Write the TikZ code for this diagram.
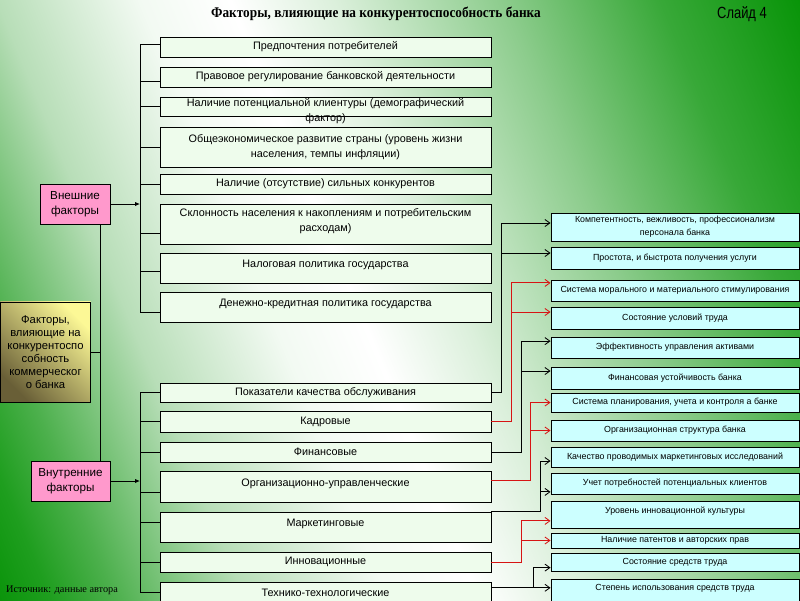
\documentclass[tikz,border=0pt]{standalone}
\usepackage{fontspec}
\setmainfont{Liberation Sans}
\newfontfamily\titlefont[FakeStretch=0.9]{Liberation Serif Bold}
\newfontfamily\slidefont[FakeStretch=0.8]{Liberation Sans}
\newfontfamily\notefont{Liberation Serif}
\usepackage{xcolor}
\usepackage{tikz}
\usetikzlibrary{arrows.meta}
\usetikzlibrary{calc}

\definecolor{midfill}{RGB}{238,252,236}
\definecolor{subfill}{RGB}{204,255,255}
\definecolor{grpfill}{RGB}{255,153,204}
\definecolor{yellowtop}{RGB}{252,248,150}
\definecolor{yellowbot}{RGB}{105,95,55}
\definecolor{linkred}{RGB}{215,20,20}

\pgfdeclarehorizontalshading{fonshade}{100bp}{rgb(0bp)=(0.02,0.57,0.02); rgb(31bp)=(0.02,0.57,0.02); rgb(33.5bp)=(0.12,0.62,0.12); rgb(36bp)=(0.30,0.69,0.30); rgb(41bp)=(0.72,0.87,0.72); rgb(46.5bp)=(0.95,0.98,0.95); rgb(50bp)=(1,1,1); rgb(54bp)=(0.86,0.94,0.86); rgb(60.5bp)=(0.55,0.80,0.55); rgb(66.5bp)=(0.22,0.66,0.22); rgb(72bp)=(0.03,0.58,0.03); rgb(100bp)=(0.03,0.58,0.03)}

\begin{document}
\begin{tikzpicture}[x=0.025cm, y=-0.025cm, line width=0.6pt,
	mid/.style={draw=black, fill=midfill, minimum width=8.275cm, inner sep=1pt, align=center, font=\fontsize{7.7}{11}\selectfont},
	sub/.style={draw=black, fill=subfill, minimum width=6.2cm, inner sep=1pt, align=center, font=\fontsize{6.3}{9}\selectfont},
	grp/.style={draw=black, fill=grpfill, minimum height=1cm, inner sep=1pt, align=center, font=\fontsize{8.3}{10.5}\selectfont},
	raised/.style={text depth=6pt},
	tip/.style={-{Straight Barb[length=3.5pt,width=5pt]}},
	blk/.style={draw=black, tip},
	redl/.style={draw=linkred, tip}]
				\useasboundingbox (0,0) rectangle (800,600);
				% background
				\begin{scope}
					\clip (0,0) rectangle (800,600);
					\begin{scope}[transform canvas={rotate around={22.6:(355,300)}}]
						\shade[shading=fonshade] (-245,-300) rectangle (955,900);
					\end{scope}
				\end{scope}
				\node (title) at (376,14) {\titlefont\fontsize{10.5}{12}\selectfont Факторы, влияющие на конкурентоспособность банка};
				\node (slide) at (742,14) {\slidefont\fontsize{11.5}{13}\selectfont Слайд 4};
				\node (source) at (62,590) {\notefont\fontsize{7.3}{9}\selectfont Источник: данные автора};
				% left column
				\node[draw=black, top color=yellowtop, bottom color=yellowbot, shading angle=-45, minimum width=2.25cm, minimum height=2.5cm, inner sep=1pt, align=center, font=\fontsize{8}{9.3}\selectfont] (main) at (45.5,352) {Факторы,\\ влияющие на\\ конкурентоспо\\ собность\\ коммерческог\\ о банка};
				\node[grp, minimum width=1.75cm] (ext) at (75,204) {Внешние\\ факторы};
				\node[grp, minimum width=1.975cm] (int) at (70.5,481) {Внутренние\\ факторы};
				% external factors
				\node[mid, minimum height=0.5cm] (c1) at (325.5,47) {Предпочтения потребителей};
				\node[mid, minimum height=0.5cm] (c2) at (325.5,77) {Правовое регулирование банковской деятельности};
				\node[mid, minimum height=0.475cm] (c3) at (325.5,106.5) {\smash{\begin{tabular}[t]{@{}c@{}}Наличие потенциальной клиентуры (демографический\\ фактор)\end{tabular}}};
				\node[mid, minimum height=1cm] (c4) at (325.5,147) {Общеэкономическое развитие страны (уровень жизни\\ населения, темпы инфляции)};
				\node[mid, minimum height=0.5cm] (c5) at (325.5,184) {Наличие (отсутствие) сильных конкурентов};
				\node[mid, raised, minimum height=1cm] (c6) at (325.5,224) {Склонность населения к накоплениям и потребительским\\ расходам)};
				\node[mid, raised, minimum height=0.75cm] (c7) at (325.5,268) {Налоговая политика государства};
				\node[mid, raised, minimum height=0.75cm] (c8) at (325.5,307) {Денежно-кредитная политика государства};
				% internal factors
				\node[mid, minimum height=0.475cm] (i1) at (325.5,392.5) {Показатели качества обслуживания};
				\node[mid, minimum height=0.525cm] (i2) at (325.5,421.5) {Кадровые};
				\node[mid, minimum height=0.5cm] (i3) at (325.5,452) {Финансовые};
				\node[mid, raised, minimum height=0.775cm] (i4) at (325.5,486.5) {Организационно-управленческие};
				\node[mid, raised, minimum height=0.75cm] (i5) at (325.5,527) {Маркетинговые};
				\node[mid, minimum height=0.5cm] (i6) at (325.5,562) {Инновационные};
				\node[mid, minimum height=0.55cm] (i7) at (325.5,593) {Технико-технологические};
				% indicators
				\node[sub, minimum height=0.7cm] (r1) at (675,227) {Компетентность, вежливость, профессионализм\\ персонала банка};
				\node[sub, minimum height=0.55cm] (r2) at (675,258) {Простота, и быстрота получения услуги};
				\node[sub, minimum height=0.525cm] (r3) at (675,290.5) {Система морального и материального стимулирования};
				\node[sub, minimum height=0.55cm] (r4) at (675,318) {Состояние условий труда};
				\node[sub, minimum height=0.525cm] (r5) at (675,347.5) {Эффективность управления активами};
				\node[sub, minimum height=0.55cm] (r6) at (675,378) {Финансовая устойчивость банка};
				\node[sub, minimum height=0.475cm] (r7) at (675,402.5) {Система планирования, учета и контроля а банке};
				\node[sub, minimum height=0.525cm] (r8) at (675,430.5) {Организационная структура банка};
				\node[sub, minimum height=0.5cm] (r9) at (675,457) {Качество проводимых маркетинговых исследований};
				\node[sub, minimum height=0.525cm] (r10) at (675,483.5) {Учет потребностей потенциальных клиентов};
				\node[sub, raised, minimum height=0.675cm] (r11) at (675,514.5) {Уровень инновационной культуры};
				\node[sub, minimum height=0.375cm] (r12) at (675,540.5) {Наличие патентов и авторских прав};
				\node[sub, minimum height=0.45cm] (r13) at (675,562) {Состояние средств труда};
				\node[sub, raised, minimum height=0.65cm] (r14) at (675,592) {Степень использования средств труда};
				% trunks
				\coordinate (spine) at (100,0);
				\coordinate (et) at (140,44);
				\coordinate (eb) at (140,312);
				\coordinate (it) at (140,393);
				\coordinate (ib) at (140,592);
				\draw (main.east) -- (main.east -| spine);
				\draw (ext.south -| spine) -- (int.north -| spine);
				\draw[-{Latex[length=3.5pt,width=3pt]}] (ext.east) -- (ext.east -| et);
				\draw[-{Latex[length=3.5pt,width=3pt]}] (int.east) -- (int.east -| it);
				\draw (et) -- (eb);
				\draw (it) -- (ib);
				\foreach \n/\s in {c1/0.075,c2/-0.1,c3/0,c4/0,c5/0,c6/-0.225,c7/-0.075,c8/-0.125,i1/0,i2/0,i3/0,i4/-0.14,i5/0.125,i6/0,i7/0.025}
					\draw ([yshift=\s cm]\n.west) -- ([yshift=\s cm]\n.west -| et);
				% links to indicators
				\draw[blk] (i1.east) -- ++(10,0) |- ([yshift=0.1cm]r1.west);
				\draw[blk] (i1.east) -- ++(10,0) |- ([yshift=0.125cm]r2.west);
				\draw[redl] (i2.east) -- ++(20,0) |- ([yshift=0.19cm]r3.west);
				\draw[redl] (i2.east) -- ++(20,0) |- ([yshift=0.15cm]r4.west);
				\draw[blk] (i3.east) -- ++(30,0) |- ([yshift=0.16cm]r5.west);
				\draw[blk] (i3.east) -- ++(30,0) |- ([yshift=0.175cm]r6.west);
				\draw[redl] ([yshift=0.14cm]i4.east) -- ++(39,0) |- (r7.west);
				\draw[redl] ([yshift=0.14cm]i4.east) -- ++(39,0) |- (r8.west);
				\draw[blk] (i5.north east) -- ++(49,0) |- ([yshift=-0.1cm]r9.west);
				\draw[blk] (i5.north east) -- ++(49,0) |- ([yshift=-0.21cm]r10.west);
				\draw[redl] (i6.east) -- ++(30,0) |- ([yshift=-0.16cm]r11.west);
				\draw[redl] (i6.east) -- ++(30,0) |- (r12.west);
				\draw[blk] ([yshift=0.13cm]i7.east) -- ++(42,0) |- ([yshift=-0.14cm]r13.west);
				\draw[blk] ([yshift=0.13cm]i7.east) -- ([yshift=0.13cm]i7.east -| r14.west);
		\end{tikzpicture}
\end{document}
